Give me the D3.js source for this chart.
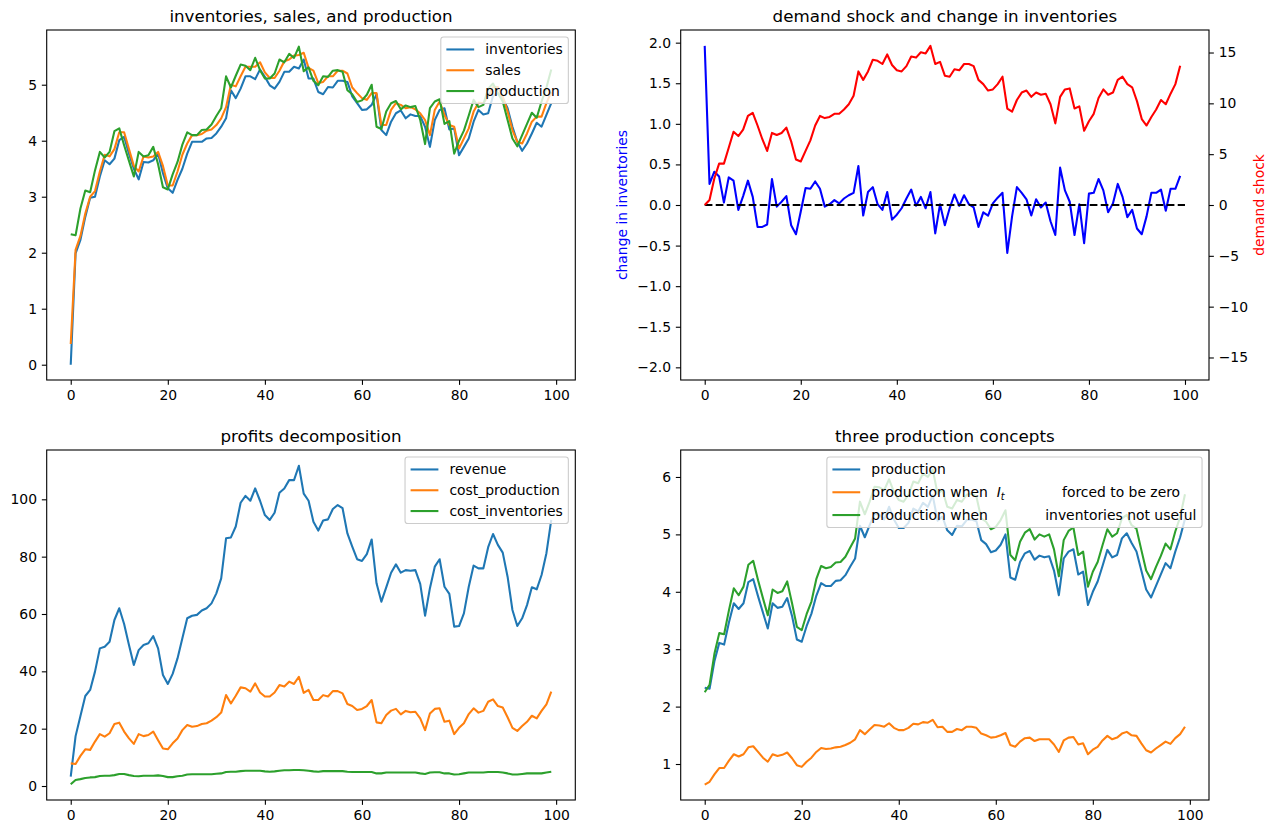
<!DOCTYPE html>
<html>
<head>
<meta charset="utf-8">
<script src="https://cdn.jsdelivr.net/npm/d3@7"></script>
<style>
  body { margin: 0; background: #fff; }
  svg text { font-family: "DejaVu Sans", sans-serif; }
</style>
</head>
<body>
<svg id="chart" width="1277" height="834"></svg>
<script>
// time index (periods 0..99)
const periods = d3.range(100);

// top left: inventories, sales, production
const inventories = [0.0, 1.99, 2.23, 2.64, 2.98, 3.0, 3.36, 3.65, 3.58, 3.68, 4.01, 4.07, 3.77, 3.5, 3.31, 3.62, 3.61, 3.65, 3.77, 3.42,
  3.15, 3.07, 3.3, 3.5, 3.77, 3.98, 3.98, 3.98, 4.04, 4.05, 4.13, 4.25, 4.4, 4.9, 4.76, 4.93, 5.15, 5.15, 5.1, 5.27,
  5.14, 4.99, 4.93, 5.05, 5.23, 5.23, 5.32, 5.29, 5.45, 5.11, 5.11, 4.87, 4.83, 4.96, 4.95, 5.07, 5.07, 5.05, 4.79, 4.67,
  4.55, 4.56, 4.64, 4.83, 4.19, 4.10, 4.34, 4.49, 4.54, 4.40, 4.47, 4.44, 4.44, 4.25, 3.89, 4.37, 4.55, 4.58, 4.20, 4.22,
  3.74, 3.89, 4.04, 4.34, 4.55, 4.47, 4.49, 4.80, 4.85, 4.76, 4.58, 4.25, 3.98, 3.82, 3.95, 4.13, 4.32, 4.25, 4.46, 4.67];
const sales = [0.37, 2.05, 2.3, 2.7, 3.0, 3.1, 3.45, 3.75, 3.72, 3.85, 4.15, 4.15, 3.85, 3.55, 3.45, 3.72, 3.7, 3.72, 3.8, 3.55,
  3.2, 3.2, 3.45, 3.75, 3.95, 4.1, 4.1, 4.12, 4.18, 4.2, 4.28, 4.4, 4.6, 5.0, 4.97, 5.15, 5.32, 5.32, 5.32, 5.4,
  5.22, 5.12, 5.12, 5.25, 5.42, 5.45, 5.52, 5.53, 5.57, 5.3, 5.25, 5.03, 5.05, 5.15, 5.15, 5.25, 5.25, 5.2, 4.95, 4.85,
  4.76, 4.73, 4.85, 4.85, 4.28, 4.28, 4.55, 4.67, 4.64, 4.58, 4.6, 4.56, 4.49, 4.37, 4.1, 4.55, 4.7, 4.46, 4.28, 4.25,
  3.86, 4.04, 4.22, 4.52, 4.68, 4.67, 4.79, 4.96, 4.96, 4.79, 4.52, 4.19, 3.98, 3.95, 4.13, 4.34, 4.43, 4.43, 4.67, 4.87];
const production = [2.33, 2.31, 2.79, 3.11, 3.08, 3.47, 3.8, 3.7, 3.8, 4.17, 4.22, 3.92, 3.64, 3.36, 3.8, 3.72, 3.74, 3.89, 3.58, 3.17,
  3.13, 3.4, 3.62, 3.93, 4.15, 4.1, 4.1, 4.19, 4.2, 4.29, 4.44, 4.58, 5.15, 4.95, 5.16, 5.36, 5.34, 5.26, 5.48, 5.26,
  5.11, 5.11, 5.2, 5.45, 5.4, 5.55, 5.48, 5.68, 5.24, 5.31, 5.07, 4.99, 5.15, 5.14, 5.25, 5.26, 5.23, 4.9, 4.83, 4.69,
  4.72, 4.82, 5.0, 4.25, 4.21, 4.52, 4.67, 4.71, 4.56, 4.63, 4.6, 4.62, 4.37, 3.94, 4.58, 4.7, 4.74, 4.3, 4.35, 3.77,
  4.0, 4.18, 4.45, 4.73, 4.6, 4.64, 4.93, 5.02, 4.85, 4.7, 4.37, 4.04, 3.9, 4.1, 4.3, 4.5, 4.41, 4.7, 4.95, 5.27];

// top right: change in inventories (left axis) and demand shock (right axis)
const changeInventories = [1.96, 0.26, 0.41, 0.35, 0.03, 0.34, 0.30, -0.06, 0.11, 0.30, 0.10, -0.27, -0.27, -0.24, 0.32, -0.02, 0.04, 0.11, -0.25, -0.36,
  -0.08, 0.21, 0.2, 0.29, 0.2, -0.02, 0.01, 0.06, 0.02, 0.08, 0.12, 0.15, 0.48, -0.13, 0.16, 0.22, 0.01, -0.06, 0.16, -0.18,
  -0.12, -0.04, 0.08, 0.19, -0.01, 0.1, -0.04, 0.16, -0.35, 0.01, -0.25, -0.04, 0.13, -0.01, 0.12, 0.01, -0.03, -0.27, -0.09, -0.13,
  0.02, 0.09, 0.15, -0.59, -0.14, 0.22, 0.15, 0.07, -0.13, 0.07, -0.03, 0.03, -0.2, -0.37, 0.46, 0.18, 0.04, -0.37, 0.01, -0.47,
  0.14, 0.15, 0.32, 0.18, -0.09, 0.02, 0.26, 0.1, -0.15, -0.06, -0.29, -0.36, -0.14, 0.15, 0.15, 0.19, -0.07, 0.2, 0.2, 0.36];
const demandShock = [0, 0.49, 2.61, 4.07, 4.07, 5.63, 7.2, 6.78, 7.41, 8.76, 9.07, 7.82, 6.47, 5.32, 7.09, 6.88, 7.09, 7.61, 6.26, 4.48,
  4.28, 5.32, 6.36, 7.82, 8.76, 8.55, 8.66, 8.97, 8.97, 9.39, 9.91, 10.74, 13.14, 12.31, 13.14, 14.29, 14.18, 13.87, 14.81, 13.77,
  13.25, 13.14, 13.66, 14.6, 14.5, 15.02, 14.91, 15.65, 13.87, 14.08, 12.72, 12.62, 13.35, 13.25, 13.87, 13.87, 13.66, 12.31, 11.89, 11.26,
  11.37, 11.89, 12.62, 9.49, 9.18, 10.33, 11.06, 11.26, 10.64, 11.06, 10.85, 10.95, 9.91, 8.03, 10.64, 11.37, 11.47, 9.49, 9.7, 7.3,
  8.24, 8.97, 10.53, 11.37, 10.85, 11.06, 12.31, 12.62, 11.89, 11.58, 10.22, 8.45, 7.82, 8.66, 9.39, 10.33, 9.91, 10.95, 11.89, 13.7];
const zeroLine = [0, 100];

// bottom left: profits decomposition
const revenue = [3.3, 17.4, 24.4, 31.4, 33.5, 39.9, 48.0, 48.6, 50.3, 57.9, 62.0, 56.5, 49.2, 42.2, 47.4, 49.2, 49.8, 52.3, 48.0, 38.7,
  35.6, 39.1, 44.5, 51.5, 58.5, 59.4, 59.7, 61.2, 62.0, 63.7, 67.2, 72.4, 86.4, 86.7, 90.5, 98.8, 101.2, 99.5, 103.8, 99.5,
  94.5, 92.8, 95.3, 102.3, 103.8, 106.7, 106.7, 111.7, 102.0, 99.5, 92.2, 89.1, 92.6, 93.0, 96.6, 98.0, 96.9, 88.1, 83.5, 79.1,
  78.5, 80.9, 86.0, 70.7, 64.3, 69.3, 74.4, 77.3, 74.4, 75.3, 75.1, 75.3, 70.5, 59.4, 69.0, 76.5, 79.1, 69.5, 67.0, 55.6,
  55.8, 60.2, 69.5, 76.9, 75.9, 75.9, 83.3, 87.9, 84.1, 81.4, 73.0, 61.4, 55.8, 58.5, 63.1, 69.3, 68.6, 73.6, 81.2, 92.8];
const costProduction = [7.9, 7.7, 10.5, 12.8, 12.6, 15.5, 18.1, 17.2, 18.4, 21.6, 22.1, 19.0, 16.6, 14.7, 18.1, 17.4, 17.8, 19.0, 16.0, 13.1,
  12.8, 14.9, 16.6, 19.5, 21.3, 20.7, 20.9, 21.6, 21.9, 22.8, 24.0, 25.6, 31.7, 28.8, 31.5, 34.4, 34.1, 32.9, 35.8, 32.6,
  31.2, 31.2, 32.6, 35.2, 34.7, 36.4, 35.6, 38.1, 32.5, 33.5, 30.0, 30.0, 31.7, 31.2, 33.1, 33.1, 32.3, 28.6, 27.9, 26.5,
  26.9, 27.9, 30.0, 22.2, 21.9, 24.8, 26.3, 26.9, 25.0, 26.2, 25.7, 25.9, 23.6, 19.5, 25.3, 26.9, 27.1, 22.4, 22.8, 18.1,
  20.3, 21.9, 25.1, 27.1, 25.6, 26.2, 29.4, 30.2, 27.9, 27.4, 24.0, 20.3, 19.2, 20.9, 22.4, 24.5, 23.6, 26.2, 28.5, 32.9];
const costInventories = [0.6, 2.1, 2.4, 2.8, 3.0, 3.1, 3.5, 3.6, 3.6, 3.8, 4.2, 4.2, 3.8, 3.5, 3.4, 3.6, 3.6, 3.6, 3.7, 3.5,
  3.1, 3.1, 3.4, 3.6, 4.0, 4.1, 4.1, 4.1, 4.1, 4.1, 4.3, 4.4, 4.9, 5.0, 5.0, 5.2, 5.3, 5.3, 5.3, 5.3,
  5.1, 5.0, 5.1, 5.3, 5.5, 5.5, 5.6, 5.6, 5.5, 5.3, 5.1, 5.0, 5.2, 5.2, 5.2, 5.2, 5.2, 5.0, 4.9, 4.9,
  4.9, 4.9, 4.9, 4.4, 4.4, 4.7, 4.7, 4.7, 4.7, 4.7, 4.7, 4.7, 4.4, 4.2, 4.7, 4.8, 4.8, 4.4, 4.4, 4.0,
  4.1, 4.4, 4.7, 4.7, 4.7, 4.7, 4.9, 4.9, 4.9, 4.7, 4.4, 4.0, 4.0, 4.2, 4.4, 4.4, 4.4, 4.4, 4.7, 5.0];

// bottom right: three production concepts
const productionZeroInv = [0.64, 0.69, 0.82, 0.93, 0.93, 1.06, 1.17, 1.13, 1.17, 1.29, 1.31, 1.21, 1.11, 1.04, 1.17, 1.14, 1.16, 1.2, 1.1, 0.98,
  0.95, 1.04, 1.11, 1.21, 1.28, 1.26, 1.27, 1.29, 1.3, 1.33, 1.37, 1.43, 1.59, 1.52, 1.6, 1.68, 1.67, 1.65, 1.71, 1.63,
  1.59, 1.59, 1.63, 1.7, 1.69, 1.73, 1.72, 1.77, 1.64, 1.65, 1.56, 1.56, 1.61, 1.59, 1.65, 1.65, 1.63, 1.53, 1.5, 1.46,
  1.47, 1.5, 1.54, 1.33, 1.3, 1.39, 1.45, 1.46, 1.4, 1.43, 1.43, 1.43, 1.34, 1.21, 1.41, 1.46, 1.47, 1.34, 1.36, 1.17,
  1.25, 1.3, 1.41, 1.49, 1.43, 1.46, 1.53, 1.56, 1.5, 1.49, 1.36, 1.24, 1.2, 1.27, 1.33, 1.39, 1.35, 1.45, 1.52, 1.65];
const productionNoInv = [2.25, 2.38, 2.92, 3.28, 3.26, 3.68, 4.06, 3.94, 4.09, 4.47, 4.54, 4.2, 3.89, 3.59, 4.04, 3.98, 4.01, 4.18, 3.8, 3.39,
  3.33, 3.61, 3.83, 4.22, 4.45, 4.41, 4.43, 4.51, 4.52, 4.61, 4.77, 4.93, 5.57, 5.35, 5.57, 5.83, 5.82, 5.77, 5.96, 5.74,
  5.6, 5.57, 5.69, 5.92, 5.89, 6.06, 6.0, 6.13, 5.71, 5.77, 5.48, 5.45, 5.6, 5.57, 5.69, 5.71, 5.66, 5.28, 5.22, 5.09,
  5.13, 5.25, 5.42, 4.64, 4.55, 4.87, 5.03, 5.09, 4.91, 5.0, 4.96, 5.0, 4.74, 4.27, 4.9, 5.06, 5.12, 4.64, 4.7, 4.09,
  4.35, 4.52, 4.81, 5.09, 4.96, 5.02, 5.28, 5.34, 5.16, 5.1, 4.73, 4.37, 4.22, 4.43, 4.62, 4.84, 4.74, 5.05, 5.3, 5.7];

// ticks
const xTicks = [0, 20, 40, 60, 80, 100];
const yTicksTL = [0, 1, 2, 3, 4, 5];
const yTicksTRleft = [-2.0, -1.5, -1.0, -0.5, 0.0, 0.5, 1.0, 1.5, 2.0];
const yTicksTRright = [-15, -10, -5, 0, 5, 10, 15];
const yTicksBL = [0, 20, 40, 60, 80, 100];
const yTicksBR = [1, 2, 3, 4, 5, 6];

const C = { blue: '#1f77b4', orange: '#ff7f0e', green: '#2ca02c' };
const FS = 13.9;      // 10pt
const TICK = 4.86;    // 3.5pt
const LW = 2.08;      // 1.5pt

const svg = d3.select('#chart');

function styleAxis(sel) {
    sel.select('.domain').remove();
    sel.selectAll('.tick line').attr('stroke', '#000').attr('stroke-width', 1.1);
    sel.selectAll('.tick text').attr('fill', '#000').attr('font-size', FS)
        .attr('font-family', '"DejaVu Sans", sans-serif');
    sel.attr('font-size', null).attr('font-family', null);
}

function makePanel(box, xDomain, yDomain, yTicks, yFmt, title) {
    const x = d3.scaleLinear().domain(xDomain).range([box.left, box.right]);
    const y = d3.scaleLinear().domain(yDomain).range([box.bottom, box.top]);
    const g = svg.append('g');
    const lines = g.append('g');

    g.append('g').attr('transform', `translate(0,${box.bottom})`)
        .call(d3.axisBottom(x).tickValues(xTicks).tickSize(TICK).tickPadding(4.86).tickFormat(d3.format('d')))
        .call(styleAxis);
    g.append('g').attr('transform', `translate(${box.left},0)`)
        .call(d3.axisLeft(y).tickValues(yTicks).tickSize(TICK).tickPadding(4.86).tickFormat(d3.format(yFmt)))
        .call(styleAxis);

    g.append('rect')
        .attr('x', box.left).attr('y', box.top)
        .attr('width', box.right - box.left).attr('height', box.bottom - box.top)
        .attr('fill', 'none').attr('stroke', '#000').attr('stroke-width', 1.1);

    g.append('text')
        .attr('x', (box.left + box.right) / 2).attr('y', box.top - 8.3)
        .attr('text-anchor', 'middle').attr('font-size', 16.7).attr('fill', '#000')
        .text(title);

    return { x, y, g, lines, box };
}

function drawLine(p, yScale, values, color, dash) {
    const line = d3.line()
        .x((d, i) => p.x(periods[i]))
        .y(d => yScale(d));
    p.lines.append('path')
        .datum(values)
        .attr('d', line)
        .attr('fill', 'none')
        .attr('stroke', color)
        .attr('stroke-width', LW)
        .attr('stroke-linejoin', 'round')
        .attr('stroke-dasharray', dash || null);
}

// legend in the upper right corner, matplotlib-like
function drawLegend(p, items, rowStep) {
    const pad = 5.56, handleLen = 27.8, textPad = 11.1, axPad = 6.95;
    const lg = svg.append('g');
    const frame = lg.append('rect');
    const texts = items.map(it => {
        const t = lg.append('text').attr('font-size', FS).attr('fill', '#000')
            .attr('dominant-baseline', 'central').style('white-space', 'pre');
        it.parts.forEach(part => {
            const ts = t.append('tspan').text(part.text);
            if (part.italic) ts.attr('font-style', 'italic');
            if (part.sub) ts.attr('font-size', FS * 0.7).attr('dy', 3.5);
            if (part.after) ts.attr('dy', -3.5);
        });
        return t;
    });
    const maxW = d3.max(texts, t => t.node().getComputedTextLength());
    const width = pad * 2 + handleLen + textPad + maxW;
    const height = pad * 2 + FS + rowStep * (items.length - 1);
    const right = p.box.right - axPad;
    const left = right - width;
    const top = p.box.top + axPad;
    frame.attr('x', left).attr('y', top).attr('width', width).attr('height', height)
        .attr('rx', 2.8).attr('fill', '#fff').attr('fill-opacity', 0.8)
        .attr('stroke', '#cccccc').attr('stroke-width', 1.1);
    items.forEach((it, i) => {
        const cy = top + pad + FS / 2 + rowStep * i;
        lg.append('line')
            .attr('x1', left + pad).attr('x2', left + pad + handleLen)
            .attr('y1', cy).attr('y2', cy)
            .attr('stroke', it.color).attr('stroke-width', LW);
        texts[i].attr('x', left + pad + handleLen + textPad).attr('y', cy);
    });
}

// ---- top left
const tl = makePanel({ left: 46.7, right: 575.3, top: 30, bottom: 380 },
    [-4.95, 103.95], [-0.273, 5.977], yTicksTL, 'd', 'inventories, sales, and production');
drawLine(tl, tl.y, inventories, C.blue);
drawLine(tl, tl.y, sales, C.orange);
drawLine(tl, tl.y, production, C.green);
drawLegend(tl, [
    { color: C.blue, parts: [{ text: 'inventories' }] },
    { color: C.orange, parts: [{ text: 'sales' }] },
    { color: C.green, parts: [{ text: 'production' }] }
], 20.8);

// ---- top right (twin axes)
const leftLim = 1.1 * d3.max(changeInventories, d => Math.abs(d));
const rightLim = 1.1 * d3.max(demandShock, d => Math.abs(d));
const tr = makePanel({ left: 680.7, right: 1209, top: 30, bottom: 380 },
    [-5, 105], [-leftLim, leftLim], yTicksTRleft, '.1f', 'demand shock and change in inventories');
const yRight = d3.scaleLinear().domain([-rightLim, rightLim]).range([380, 30]);
tr.g.append('g').attr('transform', 'translate(1209,0)')
    .call(d3.axisRight(yRight).tickValues(yTicksTRright).tickSize(TICK).tickPadding(4.86).tickFormat(d3.format('d')))
    .call(styleAxis);
drawLine(tr, tr.y, changeInventories, '#0000ff');
tr.lines.append('path')
    .datum(zeroLine)
    .attr('d', d3.line().x(d => tr.x(d)).y(() => tr.y(0)))
    .attr('fill', 'none').attr('stroke', '#000').attr('stroke-width', LW)
    .attr('stroke-dasharray', '7.7,3.3');
drawLine(tr, yRight, demandShock, '#ff0000');
tr.g.append('text')
    .attr('transform', 'translate(622,205) rotate(-90)')
    .attr('text-anchor', 'middle').attr('dominant-baseline', 'central')
    .attr('font-size', FS).attr('fill', '#0000ff')
    .text('change in inventories');
tr.g.append('text')
    .attr('transform', 'translate(1259,205) rotate(-90)')
    .attr('text-anchor', 'middle').attr('dominant-baseline', 'central')
    .attr('font-size', FS).attr('fill', '#ff0000')
    .text('demand shock');

// ---- bottom left
const bl = makePanel({ left: 46.7, right: 575.3, top: 450, bottom: 800 },
    [-4.95, 103.95], [-4.88, 117.2], yTicksBL, 'd', 'profits decomposition');
drawLine(bl, bl.y, revenue, C.blue);
drawLine(bl, bl.y, costProduction, C.orange);
drawLine(bl, bl.y, costInventories, C.green);
drawLegend(bl, [
    { color: C.blue, parts: [{ text: 'revenue' }] },
    { color: C.orange, parts: [{ text: 'cost_production' }] },
    { color: C.green, parts: [{ text: 'cost_inventories' }] }
], 20.8);

// ---- bottom right
const br = makePanel({ left: 680.7, right: 1209, top: 450, bottom: 800 },
    [-4.95, 103.95], [0.373, 6.47], yTicksBR, 'd', 'three production concepts');
drawLine(br, br.y, production, C.blue);
drawLine(br, br.y, productionZeroInv, C.orange);
drawLine(br, br.y, productionNoInv, C.green);
drawLegend(br, [
    { color: C.blue, parts: [{ text: 'production' }] },
    { color: C.orange, parts: [
        { text: 'production when  ' },
        { text: 'I', italic: true },
        { text: 't', italic: true, sub: true },
        { text: '             forced to be zero', after: true }] },
    { color: C.green, parts: [{ text: 'production when             inventories not useful' }] }
], 22.8);
</script>
</body>
</html>
